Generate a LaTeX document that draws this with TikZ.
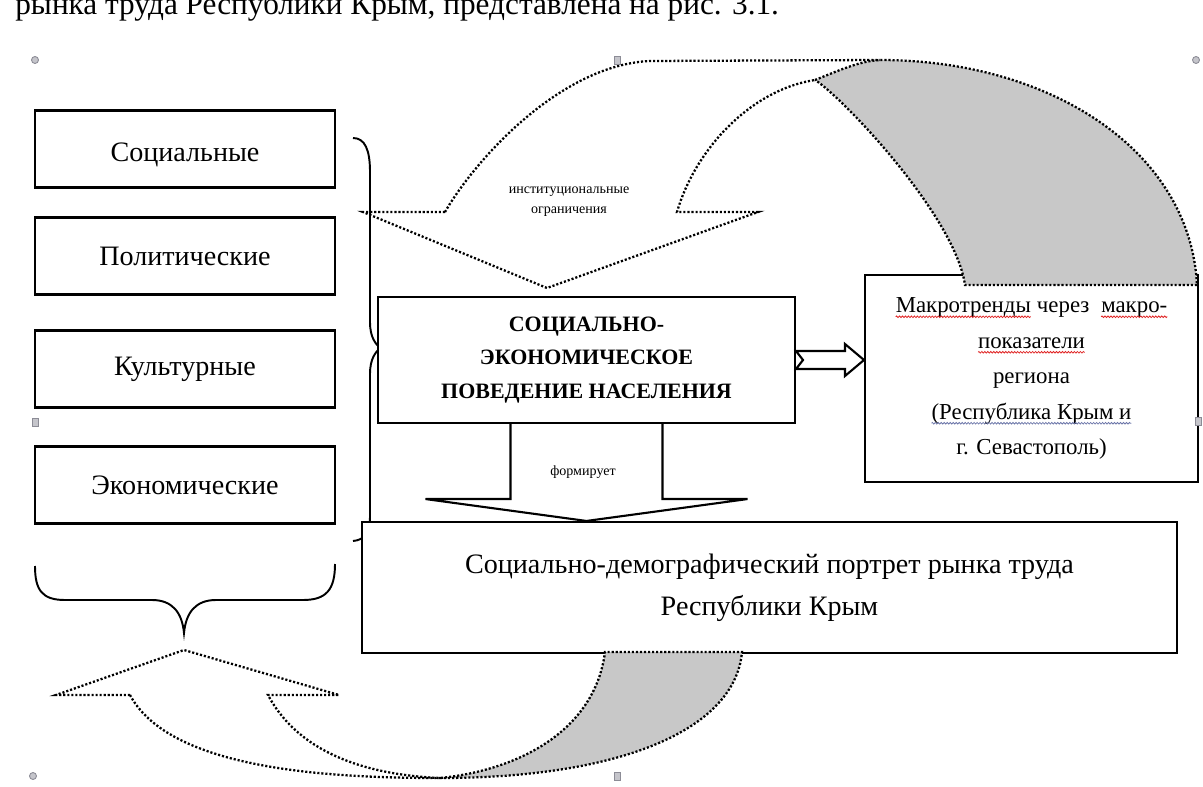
\documentclass[tikz,border=0pt]{standalone}
\usepackage{fontspec}
\setmainfont{Liberation Serif}
\usepackage{xcolor}
\definecolor{backgray}{RGB}{200,200,200}
\definecolor{handlegray}{RGB}{140,140,150}
\definecolor{spellred}{RGB}{225,40,40}
\definecolor{spellblue}{RGB}{110,120,170}
\usetikzlibrary{calc, decorations.pathmorphing}

% wavy spell-check mark under a word
\newcommand\wavyword[2]{\tikz[baseline=(ww.base)]{\node[inner sep=0pt, outer sep=0pt, minimum width=0pt, minimum height=0pt, draw=none, fill=none] (ww) {#2};
  \draw[#1, solid, line width=0.45pt, decorate, decoration={zigzag, amplitude=0.45pt, segment length=1.7pt}]
    ([yshift=-2.4pt]ww.base west) -- ([yshift=-2.4pt]ww.base east);}}

\tikzset{
  factorbox/.style={draw, line width=1.2pt, minimum width=6cm, minimum height=1.54cm, inner sep=0pt, font=\fontsize{16}{19}\selectfont},
  mainbox/.style={draw, line width=1.2pt, fill=white, inner sep=0pt, align=center},
  blockarrow/.style={draw, line width=1.2pt, fill=white, line join=miter},
  dotline/.style={line width=1.3pt, dash pattern=on 1.2pt off 1.1pt},
  bracket/.style={line width=1.1pt},
  handle/.style={draw=handlegray, fill=handlegray!50, line width=0.5pt},
  smalllabel/.style={font=\fontsize{8}{11.4}\selectfont, align=center, inner sep=0pt},
}

\begin{document}
\begin{tikzpicture}[x=0.02cm, y=-0.02cm]
  \useasboundingbox (0,0) rectangle (1203,787);
  \clip (0,0) rectangle (1203,787);

  % Cut-off line of the page text
  \node[anchor=base west, inner sep=0pt, font=\fontsize{17.8}{20}\selectfont] (pageline) at (15,15) {рынка труда Республики Крым, представлена на рис. 3.1.};

  % Factor boxes
  \node[factorbox, text height=17pt] (social) at (185,149) {Социальные};
  \node[factorbox] (political) at (185,256) {Политические};
  \node[factorbox] (cultural) at (185,369) {Культурные};
  \node[factorbox] (economic) at (185,485) {Экономические};

  % Braces
  \draw[bracket] (353,138) .. controls (365,138) and (370,150) .. (370,172) -- (370,322)
    .. controls (370,338) and (376,344) .. (380,348) .. controls (376,352) and (370,358) .. (370,374)
    -- (370,516) .. controls (370,532) and (365,540) .. (353,541);
  \draw[bracket] (35,566) .. controls (35,590) and (42,600) .. (65,600) -- (152,600)
    .. controls (172,600) and (182,612) .. (184,633) .. controls (186,612) and (196,600) .. (216,600)
    -- (303,600) .. controls (326,600) and (335,590) .. (335,564);

  % Main boxes
  \node[mainbox, minimum width=8.34cm, minimum height=2.52cm, font=\bfseries\fontsize{12.5}{19}\selectfont] (behaviour) at (586.5,360) {СОЦИАЛЬНО-\\ЭКОНОМИЧЕСКОЕ\\ПОВЕДЕНИЕ НАСЕЛЕНИЯ};
  \node[mainbox, minimum width=6.66cm, minimum height=4.14cm, font=\fontsize{13}{20.2}\selectfont] (macro) at (1031.5,378.5) {\wavyword{spellred}{Макротренды} через\ \ \wavyword{spellred}{макро-}\\\wavyword{spellred}{показатели}\\региона\\\wavyword{spellblue}{(Республика Крым и}\\г. Севастополь)};
  \node[mainbox, minimum width=16.3cm, minimum height=2.62cm, font=\fontsize{16}{24}\selectfont] (portrait) at (769.5,587.5) {Социально-демографический портрет рынка труда\\Республики Крым};

  % Block arrow to the right box
  \coordinate (rtail) at (behaviour.east);
  \coordinate (rhead) at (behaviour.east -| macro.west);
  \draw[blockarrow] ($(rtail)+(0,-9)$) -- ($(rhead)+(-19,-9)$) -- ($(rhead)+(-19,-16)$) -- (rhead)
    -- ($(rhead)+(-19,16)$) -- ($(rhead)+(-19,9)$) -- ($(rtail)+(0,9)$) -- ($(rtail)+(7,0)$) -- cycle;

  % Block arrow down
  \coordinate (dtail) at (behaviour.south);
  \coordinate (dhead) at (behaviour.south |- portrait.north);
  \draw[blockarrow] ($(dtail)+(-76,0)$) -- ($(dtail)+(-76,75)$) -- ($(dtail)+(-161,75)$) -- (dhead)
    -- ($(dtail)+(161,75)$) -- ($(dtail)+(76,75)$) -- ($(dtail)+(76,0)$);
  \node[smalllabel] (formlabel) at (583,472) {формирует};

  % Upper curved arrow
  \filldraw[fill=backgray, dotline] (815,80) .. controls (840,70) and (860,61) .. (880,60)
    .. controls (1050,60) and (1190,150) .. (1197,285) -- (965,285)
    .. controls (955,215) and (840,95) .. (815,80) -- cycle;
  \draw[dotline] (445,212) -- (363,212) -- (547,288) -- (758,212) -- (677,212)
    .. controls (695,150) and (750,90) .. (815,80);
  \draw[dotline] (445,212) .. controls (475,160) and (560,65) .. (650,61) -- (880,60);
  \node[smalllabel] (instlabel) at (569,202) {институциональные\\ограничения};

  % Lower curved arrow
  \filldraw[fill=backgray, dotline] (440,778) .. controls (620,778) and (735,730) .. (742,652)
    -- (605,652) .. controls (595,730) and (520,770) .. (440,778) -- cycle;
  \draw[dotline] (130,695) -- (56,695) -- (184,650) -- (339,695) -- (268,695)
    .. controls (300,755) and (370,775) .. (440,778);
  \draw[dotline] (130,695) .. controls (170,770) and (330,778) .. (440,778);

  % Canvas handles
  \foreach \hx/\hy in {35/60, 1196/60, 33/776}
    \draw[handle] (\hx,\hy) circle (3.5);
  \foreach \hx/\hy in {617/60, 35/422, 1198/421, 617/776}
    \draw[handle] (\hx-3,\hy-4) rectangle (\hx+3,\hy+4);
\end{tikzpicture}
\end{document}
